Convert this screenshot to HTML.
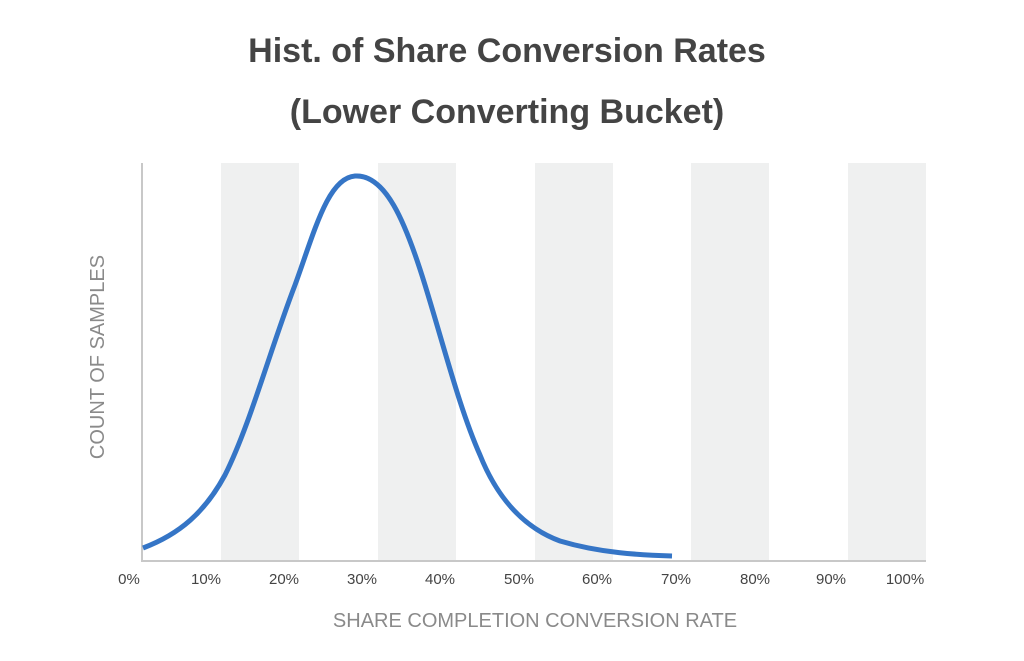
<!DOCTYPE html>
<html><head><style>
body{margin:0;background:#fff;}
svg{display:block;font-family:"Liberation Sans",sans-serif;}
</style></head><body>
<svg width="1024" height="661" viewBox="0 0 1024 661">
<rect width="1024" height="661" fill="#fff"/>
<text x="507" y="62" text-anchor="middle" font-size="34" font-weight="bold" fill="#444">Hist. of Share Conversion Rates</text>
<text x="507" y="123" text-anchor="middle" font-size="34" font-weight="bold" fill="#444">(Lower Converting Bucket)</text>
<g fill="#eff0f0">
<rect x="221" y="163" width="78" height="398"/>
<rect x="378" y="163" width="78" height="398"/>
<rect x="535" y="163" width="78" height="398"/>
<rect x="691" y="163" width="78" height="398"/>
<rect x="848" y="163" width="78" height="398"/>
</g>
<line x1="142" y1="163" x2="142" y2="562" stroke="#c8c8c8" stroke-width="2"/>
<line x1="142" y1="561" x2="926" y2="561" stroke="#c8c8c8" stroke-width="2"/>
<path d="M143,548 C180,534 205,512 225,475 C250,425 270,350 295,285 C315,230 328,178 355,176 C385,174 405,220 425,285 C445,350 460,410 480,455 C500,505 530,530 560,541 C600,553 640,555 672,556" fill="none" stroke="#3575c6" stroke-width="5"/>
<g font-size="15" fill="#444" text-anchor="middle">
<text x="129" y="584">0%</text>
<text x="206" y="584">10%</text>
<text x="284" y="584">20%</text>
<text x="362" y="584">30%</text>
<text x="440" y="584">40%</text>
<text x="519" y="584">50%</text>
<text x="597" y="584">60%</text>
<text x="676" y="584">70%</text>
<text x="755" y="584">80%</text>
<text x="831" y="584">90%</text>
<text x="905" y="584">100%</text>
</g>
<text x="535" y="627" text-anchor="middle" font-size="20" fill="#8a8a8a">SHARE COMPLETION CONVERSION RATE</text>
<text transform="translate(104,357) rotate(-90)" text-anchor="middle" font-size="20" fill="#8a8a8a">COUNT OF SAMPLES</text>
</svg>
</body></html>
